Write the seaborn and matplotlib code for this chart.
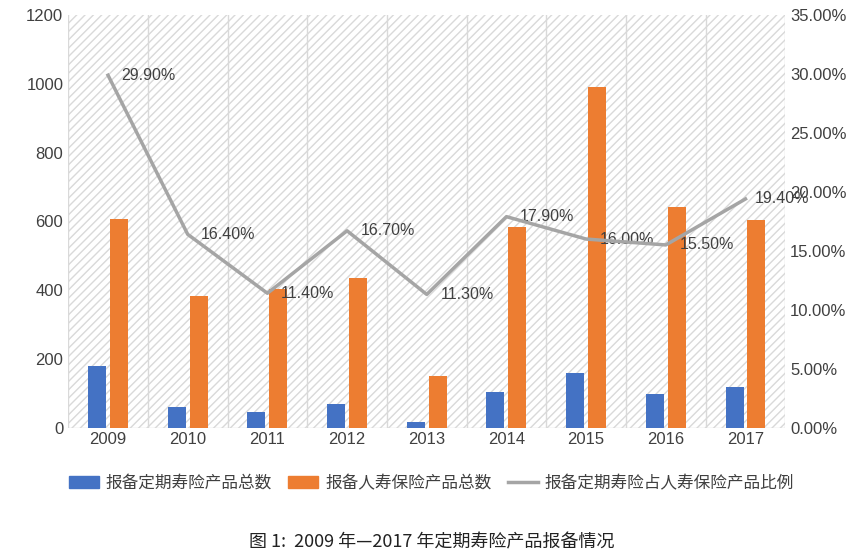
import matplotlib
matplotlib.use("Agg")
import matplotlib.pyplot as plt
import seaborn as sns
import pandas as pd
from matplotlib.patches import Rectangle
from matplotlib.lines import Line2D
from matplotlib.ticker import FuncFormatter

years = ["2009","2010","2011","2012","2013","2014","2015","2016","2017"]
term_counts = [180, 60, 45, 70, 15, 103, 158, 98, 117]
life_counts = [607, 383, 404, 436, 150, 585, 990, 642, 605]
ratio_pct = [29.9, 16.4, 11.4, 16.7, 11.3, 17.9, 16.0, 15.5, 19.4]
s1 = "报备定期寿险产品总数"
s2 = "报备人寿保险产品总数"
s3 = "报备定期寿险占人寿保险产品比例"

cjk = ["Noto Sans CJK SC", "Noto Sans CJK JP", "Noto Sans CJK TC", "Noto Sans CJK KR"]
plt.rcParams["font.family"] = ["Liberation Sans Narrow", "Liberation Sans"] + cjk
plt.rcParams["hatch.color"] = "#e3e3e3"
fig = plt.figure(figsize=(8.63, 5.59), dpi=100)
ax = fig.add_axes([0.079, 0.235, 0.831, 0.738])

df = pd.DataFrame({"year": years * 2, "v": term_counts + life_counts,
                   "s": [s1] * 9 + [s2] * 9})
ax.add_patch(Rectangle((0, 0), 1, 1, transform=ax.transAxes, facecolor="white",
                       edgecolor="#d9d9d9", hatch="////", lw=0, zorder=0))
sns.barplot(data=df, x="year", y="v", hue="s", palette=["#4472c4", "#ed7d31"],
            saturation=1, width=0.55, gap=0.18, ax=ax, legend=False, zorder=3)
ax.set_ylim(0, 1200)
ax.set_yticks(range(0, 1201, 200))
ax.set_xlim(-0.5, 8.5)
for x in [i + 0.5 for i in range(-1, 9)]:
    ax.axvline(x, color="#d9d9d9", lw=1, zorder=1)
ax.set_xlabel(""); ax.set_ylabel("")
for sp in ax.spines.values():
    sp.set_visible(False)
ax.axhline(0, color="#d9d9d9", lw=1, zorder=2)
ax.tick_params(length=0, labelsize=12, colors="#404040")

ax2 = ax.twinx()
sns.lineplot(x=list(range(9)), y=ratio_pct, color="#a5a5a5", lw=2.5, ax=ax2, zorder=4)
ax2.set_ylim(0, 35)
ax2.set_yticks(range(0, 36, 5))
ax2.yaxis.set_major_formatter(FuncFormatter(lambda v, p: f"{v:.2f}%"))
for sp in ax2.spines.values():
    sp.set_visible(False)
ax2.tick_params(length=0, labelsize=12, colors="#404040")
for i, v in enumerate(ratio_pct):
    dx = 0.12 if i == 8 else 0.17
    ax2.text(i + dx, v, f"{v:.2f}%", fontsize=11.5, color="#404040", va="center", ha="left")

handles = [Rectangle((0, 0), 1, 1, color="#4472c4"), Rectangle((0, 0), 1, 1, color="#ed7d31"),
           Line2D([], [], color="#a5a5a5", lw=2.5)]
fig.legend(handles, [s1, s2, s3], loc="center", bbox_to_anchor=(0.5, 0.135), ncol=3,
           frameon=False, prop={"family": cjk, "size": 12},
           handlelength=1.8, columnspacing=1.0, handletextpad=0.4, labelcolor="#404040")
fig.text(0.5, 0.02, "图 1:  2009 年—2017 年定期寿险产品报备情况", ha="center",
         fontsize=13, family=cjk, color="#222222")
fig.savefig("out.png", dpi=100)
